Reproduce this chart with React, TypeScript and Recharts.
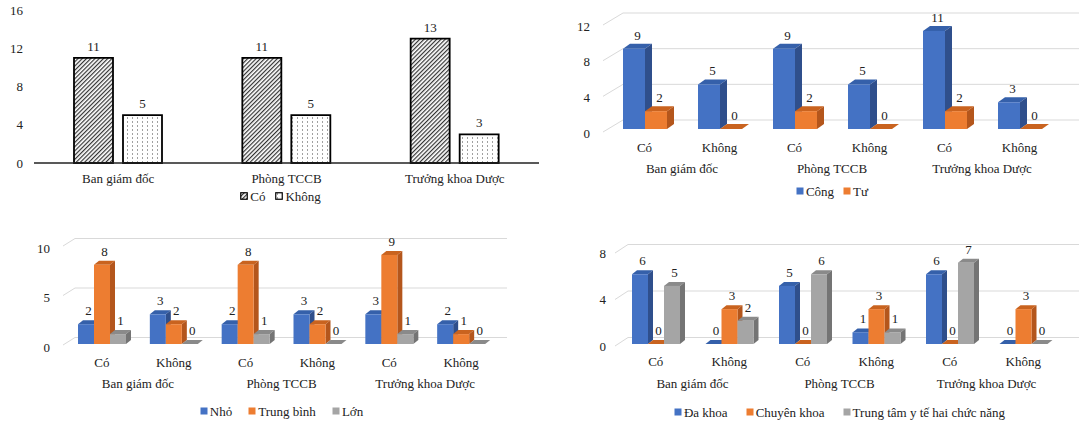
import { BarChart, Bar, XAxis, YAxis, CartesianGrid, Legend, LabelList } from "recharts";

const FONT = '"Liberation Serif", "Times New Roman", serif';
const INK = "#222222";
const GRID = "#D9D9D9";

// shared categories
const units = ["Ban giám đốc", "Phòng TCCB", "Trưởng khoa Dược"];
const answers = ["Có", "Không"];

// top-left: yes / no per unit
const coCounts = [11, 11, 13];
const khongCounts = [5, 5, 3];
const ticksTopLeft = [0, 4, 8, 12, 16];

// top-right: public / private (order: unit x answer)
const congCounts = [9, 5, 9, 5, 11, 3];
const tuCounts = [2, 0, 2, 0, 2, 0];
const ticksTopRight = [0, 4, 8, 12];

// bottom-left: small / medium / large
const nhoCounts = [2, 3, 2, 3, 3, 2];
const trungBinhCounts = [8, 2, 8, 2, 9, 1];
const lonCounts = [1, 0, 1, 0, 1, 0];
const ticksBottomLeft = [0, 5, 10];

// bottom-right: hospital type
const daKhoaCounts = [6, 0, 5, 1, 6, 0];
const chuyenKhoaCounts = [0, 3, 0, 3, 0, 3];
const trungTamCounts = [5, 2, 6, 1, 7, 0];
const ticksBottomRight = [0, 4, 8];

type Face = { front: string; side: string; top: string };
const BLUE: Face = { front: "#4472C4", side: "#2F4F8C", top: "#3560AA" };
const ORANGE: Face = { front: "#ED7D31", side: "#B4561C", top: "#C9631F" };
const GRAY: Face = { front: "#A5A5A5", side: "#747474", top: "#8A8A8A" };

const unitRows = units.map((unit, i) => ({ unit, co: coCounts[i], khong: khongCounts[i] }));

function pairRows(series: Record<string, number[]>) {
  const rows: any[] = [];
  units.forEach((group, g) => {
    answers.forEach((sub, a) => {
      const i = g * answers.length + a;
      const row: any = { group, sub };
      Object.keys(series).forEach((k) => (row[k] = series[k][i]));
      rows.push(row);
    });
  });
  return rows;
}

function Box3D(props: any) {
  const { x, y, width, height, face, depth } = props;
  const [dx, dy] = depth;
  const r = x + width;
  const b = y + height;
  return (
    <g>
      <polygon points={`${x},${y} ${x + dx},${y - dy} ${r + dx},${y - dy} ${r},${y}`} fill={face.top} />
      {height > 0 && (
        <polygon points={`${r},${y} ${r + dx},${y - dy} ${r + dx},${b - dy} ${r},${b}`} fill={face.side} />
      )}
      {height > 0 && <rect x={x} y={y} width={width} height={height} fill={face.front} />}
    </g>
  );
}

// value label above a bar; gap is the distance from bar top to the text baseline
function TopLabel(props: any) {
  const vb = props.viewBox ?? props;
  const { x, y, width } = vb;
  return (
    <text x={x + width / 2 + props.shift} y={y - props.gap} textAnchor="middle" fontFamily={FONT} fontSize={13} fill={INK}>
      {props.value}
    </text>
  );
}

function YTick({ x, y, payload, dy }: any) {
  return (
    <text x={x} y={y + dy} textAnchor="end" dominantBaseline="central" fontFamily={FONT} fontSize={13} fill={INK}>
      {payload.value}
    </text>
  );
}

function TwoLevelTick({ x, y, payload, index, rows, band, subDy, groupDy }: any) {
  const i = index ?? payload.index;
  return (
    <g>
      <text x={x} y={y + subDy} textAnchor="middle" dominantBaseline="central" fontFamily={FONT} fontSize={13} fill={INK}>
        {payload.value}
      </text>
      {i % 2 === 0 && (
        <text x={x + band / 2} y={y + groupDy} textAnchor="middle" dominantBaseline="central" fontFamily={FONT} fontSize={13} fill={INK}>
          {rows[i].group}
        </text>
      )}
    </g>
  );
}

function SwatchLegend({ payload, gap, bordered }: any) {
  return (
    <div
      style={{
        display: "flex",
        justifyContent: "center",
        alignItems: "center",
        columnGap: gap,
        fontFamily: FONT,
        fontSize: 13,
        color: INK,
        lineHeight: "15px",
        whiteSpace: "nowrap",
      }}
    >
      {(payload ?? []).map((e: any) => (
        <span key={e.value} style={{ display: "inline-flex", alignItems: "center" }}>
          <svg width={8} height={8} style={{ marginRight: 2 }}>
            <rect
              x={bordered ? 0.75 : 0.5}
              y={bordered ? 0.75 : 0.5}
              width={bordered ? 6.5 : 7}
              height={bordered ? 6.5 : 7}
              fill={e.color}
              stroke={bordered ? "#000" : "none"}
              strokeWidth={1.2}
            />
          </svg>
          {e.value}
        </span>
      ))}
    </div>
  );
}

function grid3D(back: number, inset: number, lead: number, leadDy: number, extend: number) {
  return (g: any) => (
    <g key={g.key}>
      <line x1={g.x1 - lead} y1={g.y1 + leadDy} x2={g.x1 + inset} y2={g.y1 - back} stroke={GRID} strokeWidth={1} />
      <line x1={g.x1 + inset} y1={g.y1 - back} x2={g.x2 + extend} y2={g.y1 - back} stroke={GRID} strokeWidth={1} />
    </g>
  );
}

type SeriesDef = { key: string; name: string; face: Face };

type Panel3DProps = {
  left: number;
  top: number;
  width: number;
  height: number;
  rows: any[];
  series: SeriesDef[];
  yMax: number;
  ticks: number[];
  plotLeft: number;
  marginRight: number;
  plotTop: number;
  plotBottom: number;
  barSize: number;
  depth: [number, number];
  yLabelGap: number;
  yLabelDy: number;
  subDy: number;
  groupDy: number;
  legendTop: number;
  legendGap: number;
  grid: [number, number, number, number, number];
};

function Panel3D(p: Panel3DProps) {
  const plotW = p.width - p.plotLeft - p.marginRight;
  const band = plotW / p.rows.length;
  const axisH = 60;
  const order = p.series.map((s) => s.name);
  return (
    <div style={{ position: "absolute", left: p.left, top: p.top, width: p.width, height: p.height }}>
      <BarChart
        width={p.width}
        height={p.height}
        data={p.rows}
        margin={{ top: p.plotTop, right: p.marginRight, left: 0, bottom: p.height - p.plotBottom - axisH }}
        barSize={p.barSize}
        barGap={0}
      >
        <CartesianGrid vertical={false} horizontal={grid3D(...p.grid)} />
        <XAxis
          dataKey="sub"
          height={axisH}
          axisLine={false}
          tickLine={false}
          tickSize={0}
          tickMargin={0}
          interval={0}
          tick={(t: any) => (
            <TwoLevelTick {...t} rows={p.rows} band={band} subDy={p.subDy} groupDy={p.groupDy} />
          )}
        />
        <YAxis
          width={p.plotLeft}
          domain={[0, p.yMax]}
          ticks={p.ticks}
          axisLine={false}
          tickLine={false}
          tickSize={0}
          tickMargin={p.yLabelGap}
          tick={(t: any) => <YTick {...t} dy={p.yLabelDy} />}
        />
        <Legend
          verticalAlign="middle"
          align="center"
          layout="horizontal"
          itemSorter={(e: any) => order.indexOf(e.value)}
          wrapperStyle={{ top: p.legendTop, left: p.plotLeft, width: plotW }}
          content={(lp: any) => <SwatchLegend payload={lp.payload} gap={p.legendGap} bordered={false} />}
        />
        {p.series.map((s) => (
          <Bar
            key={s.key}
            dataKey={s.key}
            name={s.name}
            fill={s.face.front}
            isAnimationActive={false}
            shape={(b: any) => <Box3D {...b} face={s.face} depth={p.depth} />}
          >
            <LabelList
              dataKey={s.key}
              content={(l: any) => <TopLabel {...l} shift={p.depth[0] / 2} gap={9} />}
            />
          </Bar>
        ))}
      </BarChart>
    </div>
  );
}

function PatternPanel() {
  const width = 540;
  const height = 210;
  const plotLeft = 34;
  const marginRight = 1;
  const plotW = width - plotLeft - marginRight;
  const order = ["Có", "Không"];
  return (
    <div style={{ position: "absolute", left: 0, top: 0, width, height }}>
      <BarChart
        width={width}
        height={height}
        data={unitRows}
        margin={{ top: 10, right: marginRight, left: 0, bottom: 17 }}
        barSize={39}
        barGap={10}
      >
        <XAxis
          dataKey="unit"
          height={30}
          axisLine={{ stroke: "#222", strokeWidth: 1.6 }}
          tickLine={false}
          tickSize={0}
          tickMargin={0}
          interval={0}
          tick={(t: any) => (
            <text x={t.x} y={t.y + 15} textAnchor="middle" dominantBaseline="central" fontFamily={FONT} fontSize={13} fill={INK}>
              {t.payload.value}
            </text>
          )}
        />
        <YAxis
          width={plotLeft}
          domain={[0, 16]}
          ticks={ticksTopLeft}
          axisLine={false}
          tickLine={false}
          tickSize={0}
          tickMargin={11}
          tick={(t: any) => <YTick {...t} dy={0} />}
        />
        <Legend
          verticalAlign="middle"
          align="center"
          layout="horizontal"
          itemSorter={(e: any) => order.indexOf(e.value)}
          wrapperStyle={{ top: 188.5, left: plotLeft - 6, width: plotW }}
          content={(lp: any) => <SwatchLegend payload={lp.payload} gap={10} bordered />}
        />
        <Bar dataKey="co" name="Có" fill="url(#hatchCo)" stroke="#000" strokeWidth={1.8} isAnimationActive={false}>
          <LabelList dataKey="co" content={(l: any) => <TopLabel {...l} shift={0} gap={7} />} />
        </Bar>
        <Bar dataKey="khong" name="Không" fill="url(#dotsKhong)" stroke="#000" strokeWidth={1.8} isAnimationActive={false}>
          <LabelList dataKey="khong" content={(l: any) => <TopLabel {...l} shift={0} gap={7} />} />
        </Bar>
      </BarChart>
    </div>
  );
}

export default function App() {
  return (
    <div style={{ position: "absolute", left: 0, top: 0, width: 1079, height: 421, background: "#fff", overflow: "hidden" }}>
      <svg width={0} height={0} style={{ position: "absolute" }}>
        <defs>
          <pattern id="hatchCo" patternUnits="userSpaceOnUse" width={3} height={3} patternTransform="rotate(45)">
            <rect width={3} height={3} fill="#fff" />
            <line x1={0.6} y1={0} x2={0.6} y2={3} stroke="#333" strokeWidth={1.2} />
          </pattern>
          <pattern id="dotsKhong" patternUnits="userSpaceOnUse" width={5} height={4}>
            <rect width={5} height={4} fill="#fff" />
            <rect x={2} y={1.5} width={1} height={1} fill="#444" />
          </pattern>
        </defs>
      </svg>

      <PatternPanel />

      <Panel3D
        left={540}
        top={0}
        width={539}
        height={210}
        rows={pairRows({ cong: congCounts, tu: tuCounts })}
        series={[
          { key: "cong", name: "Công", face: BLUE },
          { key: "tu", name: "Tư", face: ORANGE },
        ]}
        yMax={12}
        ticks={ticksTopRight}
        plotLeft={67}
        marginRight={22}
        plotTop={22}
        plotBottom={129}
        barSize={22}
        depth={[7, 5]}
        yLabelGap={17}
        yLabelDy={4}
        subDy={18}
        groupDy={39}
        legendTop={183.5}
        legendGap={9}
        grid={[9, 16, 4, 3, 22]}
      />

      <Panel3D
        left={0}
        top={220}
        width={540}
        height={201}
        rows={pairRows({ nho: nhoCounts, trungBinh: trungBinhCounts, lon: lonCounts })}
        series={[
          { key: "nho", name: "Nhỏ", face: BLUE },
          { key: "trungBinh", name: "Trung bình", face: ORANGE },
          { key: "lon", name: "Lớn", face: GRAY },
        ]}
        yMax={10}
        ticks={ticksBottomLeft}
        plotLeft={66}
        marginRight={43}
        plotTop={25}
        plotBottom={124}
        barSize={16}
        depth={[5, 4]}
        yLabelGap={16}
        yLabelDy={3}
        subDy={18}
        groupDy={39}
        legendTop={183.5}
        legendGap={16}
        grid={[6.5, 9, 3, 1, 10]}
      />

      <Panel3D
        left={540}
        top={220}
        width={539}
        height={201}
        rows={pairRows({ daKhoa: daKhoaCounts, chuyenKhoa: chuyenKhoaCounts, trungTam: trungTamCounts })}
        series={[
          { key: "daKhoa", name: "Đa khoa", face: BLUE },
          { key: "chuyenKhoa", name: "Chuyên khoa", face: ORANGE },
          { key: "trungTam", name: "Trung tâm y tế hai chức năng", face: GRAY },
        ]}
        yMax={8}
        ticks={ticksBottomRight}
        plotLeft={79}
        marginRight={19}
        plotTop={31}
        plotBottom={124}
        barSize={16}
        depth={[5, 4]}
        yLabelGap={13}
        yLabelDy={2}
        subDy={17}
        groupDy={39}
        legendTop={184.5}
        legendGap={18}
        grid={[6.5, 9, 4, 2, 19]}
      />
    </div>
  );
}
